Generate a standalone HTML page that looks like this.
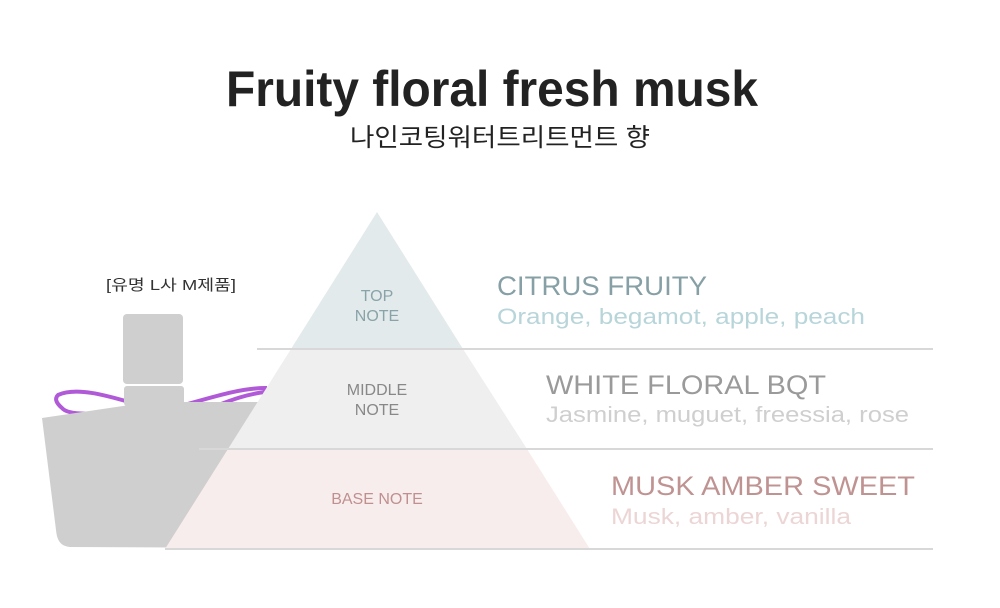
<!DOCTYPE html>
<html><head><meta charset="utf-8"><style>
html,body{margin:0;padding:0;background:#fff;}
svg{display:block;}
text{font-family:"Liberation Sans","Noto Sans CJK KR",sans-serif;}
</style></head><body>
<svg width="1000" height="608" viewBox="0 0 1000 608" xmlns="http://www.w3.org/2000/svg">
<rect width="1000" height="608" fill="#fff"/>
<text x="226" y="106" font-size="50" font-weight="bold" fill="#222" textLength="532" lengthAdjust="spacingAndGlyphs">Fruity floral fresh musk</text>
<text x="350" y="146" font-size="25" fill="#222" textLength="300" lengthAdjust="spacingAndGlyphs">나인코팅워터트리트먼트 향</text>
<text x="106" y="290" font-size="15" fill="#333" textLength="130" lengthAdjust="spacingAndGlyphs">[유명 L사 M제품]</text>
<!-- bottle -->
<path d="M58 395 C80 385,120 400,140 405 L140 410 C110 412,70 418,62 408 C55 402,55 398,58 395 Z" fill="none" stroke="#b05ad8" stroke-width="4"/>
<path d="M184 405 C210 398,240 388,265 388 L265 392 C240 395,220 405,205 410" fill="none" stroke="#b05ad8" stroke-width="4"/>
<rect x="123" y="314" width="60" height="70" rx="4" fill="#cfcfcf"/>
<rect x="124" y="386" width="60" height="20" rx="3" fill="#cfcfcf"/>
<path d="M42 418 L150 402 L270 402 L270 548 L70 547 C60 546,57 540,56 530 Z" fill="#cfcfcf"/>
<!-- pyramid -->
<polygon points="377,212 291,349 463,349" fill="#e2eaec"/>
<polygon points="291,349 463,349 527,449 228,449" fill="#efefef"/>
<polygon points="228,449 527,449 590,549 165,549" fill="#f8eded"/>
<line x1="257" y1="349" x2="933" y2="349" stroke="#d8d8d8" stroke-width="2"/>
<line x1="199" y1="449" x2="933" y2="449" stroke="#d8d8d8" stroke-width="2"/>
<line x1="165" y1="549" x2="933" y2="549" stroke="#d8d8d8" stroke-width="2"/>
<text x="377" y="301" font-size="16" fill="#8aa3a8" text-anchor="middle">TOP</text>
<text x="377" y="321" font-size="16" fill="#8aa3a8" text-anchor="middle">NOTE</text>
<text x="377" y="395" font-size="16" fill="#888" text-anchor="middle">MIDDLE</text>
<text x="377" y="415" font-size="16" fill="#888" text-anchor="middle">NOTE</text>
<text x="377" y="504" font-size="16" fill="#c09090" text-anchor="middle">BASE NOTE</text>
<text x="497" y="295" font-size="27" fill="#86a0a6" textLength="210" lengthAdjust="spacingAndGlyphs">CITRUS FRUITY</text>
<text x="497" y="324" font-size="22" fill="#b8d5da" textLength="368" lengthAdjust="spacingAndGlyphs">Orange, begamot, apple, peach</text>
<text x="546" y="394" font-size="27" fill="#9a9a9a" textLength="280" lengthAdjust="spacingAndGlyphs">WHITE FLORAL BQT</text>
<text x="546" y="422" font-size="22" fill="#cfcfcf" textLength="363" lengthAdjust="spacingAndGlyphs">Jasmine, muguet, freessia, rose</text>
<text x="611" y="495" font-size="27" fill="#c09393" textLength="304" lengthAdjust="spacingAndGlyphs">MUSK AMBER SWEET</text>
<text x="611" y="524" font-size="22" fill="#ecd5d5" textLength="240" lengthAdjust="spacingAndGlyphs">Musk, amber, vanilla</text>
</svg>
</body></html>
